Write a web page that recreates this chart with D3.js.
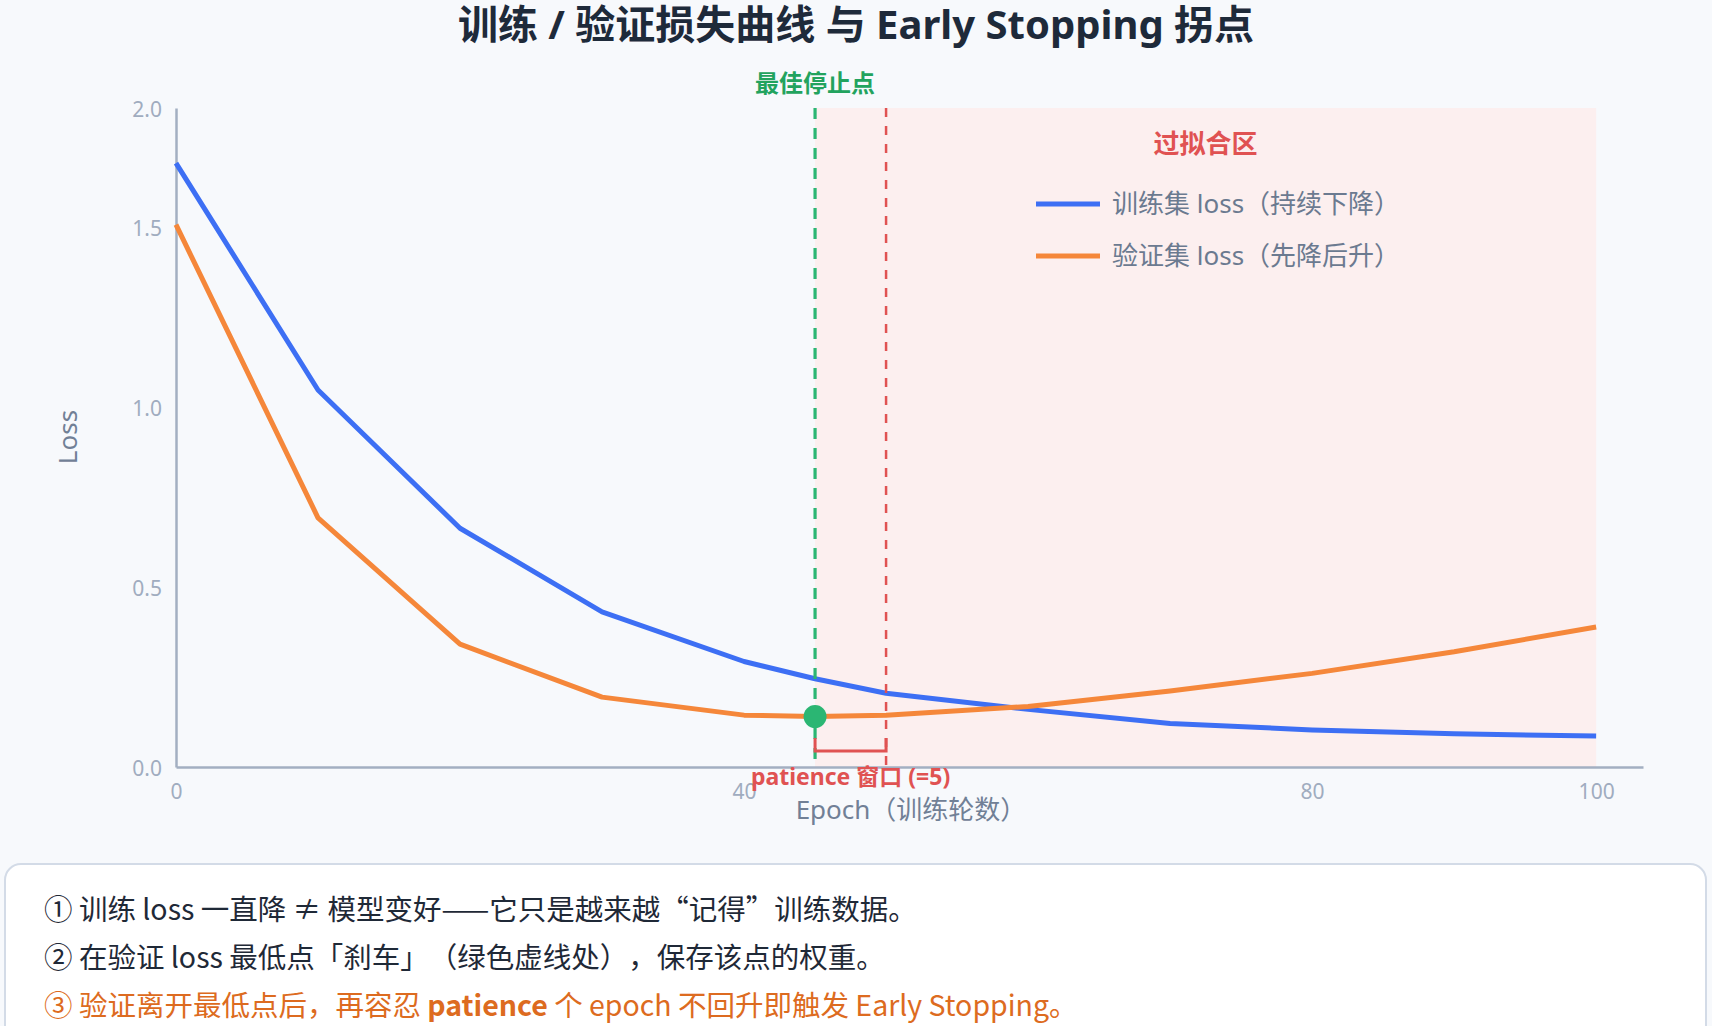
<!DOCTYPE html>
<html><head><meta charset="utf-8">
<script src="https://cdn.jsdelivr.net/npm/d3@7"></script>
<style>
html,body{margin:0;padding:0;background:#f7f9fc;}
svg{display:block;font-family:"Noto Sans","Noto Sans CJK SC",sans-serif;text-spacing-trim:space-all;}
.note{font-family:"Noto Sans CJK SC",sans-serif;text-spacing-trim:space-all;}
</style></head>
<body><svg id="c" width="1712" height="1026"></svg>
<script>
const epochs    = [0, 10, 20, 30, 40, 45, 50, 60, 70, 80, 90, 100];
const trainLoss = [1.677, 1.047, 0.663, 0.431, 0.293, 0.245, 0.205, 0.160, 0.121, 0.103, 0.092, 0.086];
const valLoss   = [1.506, 0.692, 0.341, 0.194, 0.144, 0.140, 0.144, 0.168, 0.211, 0.260, 0.320, 0.389];
const bestEpoch = 45;
const patience = 5;
const xTicks = [0, 40, 80, 100];
const yTickValues = [0, 0.5, 1.0, 1.5, 1.83];
const yTickLabels = ["0.0", "0.5", "1.0", "1.5", "2.0"];
const seriesNames = ["训练集 loss（持续下降）", "验证集 loss（先降后升）"];
const notes = [
  "① 训练 loss 一直降 ≠ 模型变好——它只是越来越“记得”训练数据。",
  "② 在验证 loss 最低点「刹车」（绿色虚线处），保存该点的权重。"
];

const svg = d3.select("#c");
const W = 1712, H = 1026;
const m = {l:176, r:1643, t:108, b:767};
const x = d3.scaleLinear().domain([0, 103.3]).range([m.l, m.r]);
const y = d3.scaleLinear().domain([0, 1.83]).range([m.b, m.t]);

svg.append("rect").attr("width", W).attr("height", H).attr("fill", "#f7f9fc");

// title
svg.append("text").attr("x", 856).attr("y", 39).attr("text-anchor", "middle")
  .attr("font-size", 40).attr("font-weight", 700).attr("fill", "#1e2a3a")
  .text("训练 / 验证损失曲线 与 Early Stopping 拐点");

// overfit zone
svg.append("rect").attr("x", x(bestEpoch)).attr("y", m.t)
  .attr("width", x(100) - x(bestEpoch)).attr("height", m.b - m.t)
  .attr("fill", "#fcefef");

// axes
const gx = svg.append("g").attr("transform", `translate(0,${m.b})`)
  .call(d3.axisBottom(x).tickValues(xTicks).tickSize(0).tickPadding(17).tickFormat(d3.format("d")));
const gy = svg.append("g").attr("transform", `translate(${m.l},0)`)
  .call(d3.axisLeft(y).tickValues(yTickValues).tickSize(0).tickPadding(14)
    .tickFormat((d, i) => yTickLabels[i]));
[gx, gy].forEach(g => {
  g.select(".domain").attr("stroke", "#a3afc2").attr("stroke-width", 2.5);
  g.selectAll("text").attr("fill", "#a0acbf").attr("font-size", 21)
    .attr("font-family", '"Noto Sans","Noto Sans CJK SC",sans-serif');
});
gy.selectAll("text").attr("dy", "0.42em");
gx.selectAll("text").attr("dy", "0.72em");

// axis titles
svg.append("text").attr("transform", "translate(68,437) rotate(-90)").attr("text-anchor", "middle")
  .attr("dy", "0.35em").attr("font-size", 26).attr("fill", "#718096").text("Loss");
svg.append("text").attr("x", 911).attr("y", 819).attr("text-anchor", "middle")
  .attr("font-size", 26).attr("fill", "#718096").text("Epoch（训练轮数）");

// lines
const line = d3.line().x(d => x(d[0])).y(d => y(d[1]));
const trainPts = epochs.map((e, i) => [e, trainLoss[i]]);
const valPts = epochs.map((e, i) => [e, valLoss[i]]);
svg.append("path").datum(trainPts).attr("d", line).attr("fill", "none")
  .attr("stroke", "#3d6ff4").attr("stroke-width", 5).attr("stroke-linejoin", "round");
svg.append("path").datum(valPts).attr("d", line).attr("fill", "none")
  .attr("stroke", "#f5873a").attr("stroke-width", 5).attr("stroke-linejoin", "round");

// best stop line
svg.append("line").attr("x1", x(bestEpoch)).attr("x2", x(bestEpoch))
  .attr("y1", m.t).attr("y2", 760).attr("stroke", "#2bb673")
  .attr("stroke-width", 3.2).attr("stroke-dasharray", "11,9");
// patience line
svg.append("line").attr("x1", x(bestEpoch + patience)).attr("x2", x(bestEpoch + patience))
  .attr("y1", m.t).attr("y2", m.b).attr("stroke", "#e05252")
  .attr("stroke-width", 2.5).attr("stroke-dasharray", "9,9");

// bracket
svg.append("path")
  .attr("d", `M${x(bestEpoch)},738 V751 H${x(bestEpoch + patience)} V738`)
  .attr("fill", "none").attr("stroke", "#e05252").attr("stroke-width", 3);

// best point
const bestIdx = epochs.indexOf(bestEpoch);
svg.append("circle").attr("cx", x(bestEpoch)).attr("cy", y(valLoss[bestIdx]))
  .attr("r", 11.5).attr("fill", "#2bb673");

// labels
svg.append("text").attr("x", x(bestEpoch)).attr("y", 92).attr("text-anchor", "middle")
  .attr("font-size", 24).attr("font-weight", 700).attr("fill", "#22a35e").text("最佳停止点");
svg.append("text").attr("x", (x(bestEpoch) + x(100)) / 2).attr("y", 153).attr("text-anchor", "middle")
  .attr("font-size", 26).attr("font-weight", 700).attr("fill", "#e05252").text("过拟合区");
svg.append("text").attr("x", x(bestEpoch + patience / 2)).attr("y", 785).attr("text-anchor", "middle")
  .attr("font-size", 23).attr("font-weight", 700).attr("fill", "#e05252").text("patience 窗口 (=5)");

// legend
const legColors = ["#3d6ff4", "#f5873a"];
seriesNames.forEach((n, i) => {
  const ly = 204 + i * 52;
  svg.append("line").attr("x1", 1036).attr("x2", 1100).attr("y1", ly).attr("y2", ly)
    .attr("stroke", legColors[i]).attr("stroke-width", 5);
  svg.append("text").attr("x", 1112).attr("y", ly).attr("dy", "0.36em")
    .attr("font-size", 26).attr("fill", "#6b7a90").text(n);
});

// notes box
svg.append("rect").attr("x", 5).attr("y", 864).attr("width", 1701).attr("height", 200)
  .attr("rx", 16).attr("fill", "#ffffff").attr("stroke", "#d3dbe7").attr("stroke-width", 2);
notes.forEach((t, i) => {
  svg.append("text").attr("class", "note").attr("x", 44).attr("y", 920 + i * 48)
    .attr("font-size", 28.5).attr("fill", "#1f2937").text(t);
});
const t3 = svg.append("text").attr("class", "note").attr("x", 44).attr("y", 1016)
  .attr("font-size", 28.5).attr("fill", "#dd6b20");
t3.append("tspan").text("③ 验证离开最低点后，再容忍 ");
t3.append("tspan").attr("font-weight", 700).text("patience");
t3.append("tspan").text(" 个 epoch 不回升即触发 Early Stopping。");
</script></body></html>
